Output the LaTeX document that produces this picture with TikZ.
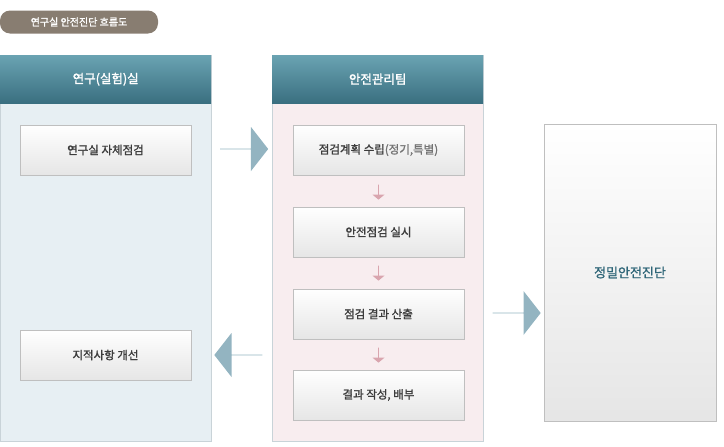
\documentclass[tikz,border=0pt]{standalone}
\usepackage{fontspec}
\setmainfont{Noto Sans CJK KR}
\newfontfamily\krbold[FakeBold=1.5]{Noto Sans CJK KR}
\usetikzlibrary{positioning,shapes.arrows}
\definecolor{headtop}{HTML}{6AA3B2}
\definecolor{headbot}{HTML}{3A6F80}
\definecolor{bluebg}{HTML}{E7EFF3}
\definecolor{pinkbg}{HTML}{F8EDEF}
\definecolor{colline}{HTML}{C9D3D8}
\definecolor{bigarrow}{HTML}{93B4C1}
\definecolor{smallarrow}{HTML}{D9A5AE}
\definecolor{txt}{HTML}{3C3C3C}
\definecolor{teal}{HTML}{2F6678}
\tikzset{
	column/.style={
		draw=colline,
		rectangle,
		minimum width=211pt,
		minimum height=386pt,
		anchor=north west,
	},
	header/.style={
		rectangle,
		top color=headtop,
		bottom color=headbot,
		text=white,
		minimum width=211pt,
		minimum height=48pt,
		anchor=north west,
		font=\krbold\fontsize{12.5}{14}\selectfont,
	},
	stepbox/.style={
		draw=black!25,
		rectangle,
		top color=white,
		bottom color=black!10,
		minimum width=171pt,
		minimum height=50pt,
		text=txt,
		font=\krbold\fontsize{11.5}{14}\selectfont,
	},
	flowarrow/.style={
		single arrow,
		fill=bigarrow,
		minimum height=48pt,
		minimum width=44pt,
		single arrow head extend=9pt,
		single arrow tip angle=104,
		inner sep=0pt,
	},
	downarrow/.style={
		single arrow,
		fill=smallarrow,
		shape border rotate=270,
		minimum height=15pt,
		minimum width=12pt,
		single arrow head extend=3pt,
		single arrow tip angle=100,
		inner sep=0pt,
	},
}
\begin{document}
\begin{tikzpicture}[x=1pt,y=-1pt]
	\useasboundingbox (0,0) rectangle (724,447);

	\node[fill=black!70!brown!60,rounded corners=10pt,text=white,minimum width=158pt,minimum height=23pt,
		font=\krbold\fontsize{10}{12}\selectfont] (title) at (79,22) {연구실 안전진단 흐름도};

	\node[column,fill=bluebg] (lab) at (0,55) {};
	\node[header] (labhead) at (0,55) {연구(실험)실};
	\node[column,fill=pinkbg] (team) at (272,55) {};
	\node[header] (teamhead) at (272,55) {안전관리팀};

	\node[stepbox] (self) at (105.5,150) {연구실 자체점검};
	\node[stepbox] (fix) at (105.5,355) {지적사항 개선};

	\node[stepbox] (plan) at (378.5,150) {점검계획 수립{\mdseries\color{black!55}(정기,특별)}};
	\node[stepbox] (check) at (378.5,232) {안전점검 실시};
	\node[stepbox] (result) at (378.5,314) {점검 결과 산출};
	\node[stepbox] (report) at (378.5,395) {결과 작성, 배부};

	\node[stepbox,minimum width=172pt,minimum height=297pt,text=teal,
		font=\krbold\fontsize{13}{15}\selectfont] (detail) at (630,272.5) {정밀안전진단};

	\node[downarrow] (d1) at (378.5,192) {};
	\node[downarrow] (d2) at (378.5,273) {};
	\node[downarrow] (d3) at (378.5,355) {};

	\node[flowarrow] (toteam) at (244,149) {};
	\node[flowarrow] (todetail) at (516.5,313) {};
	\node[flowarrow,shape border rotate=180] (tolab) at (238.5,355) {};

\end{tikzpicture}
\end{document}
